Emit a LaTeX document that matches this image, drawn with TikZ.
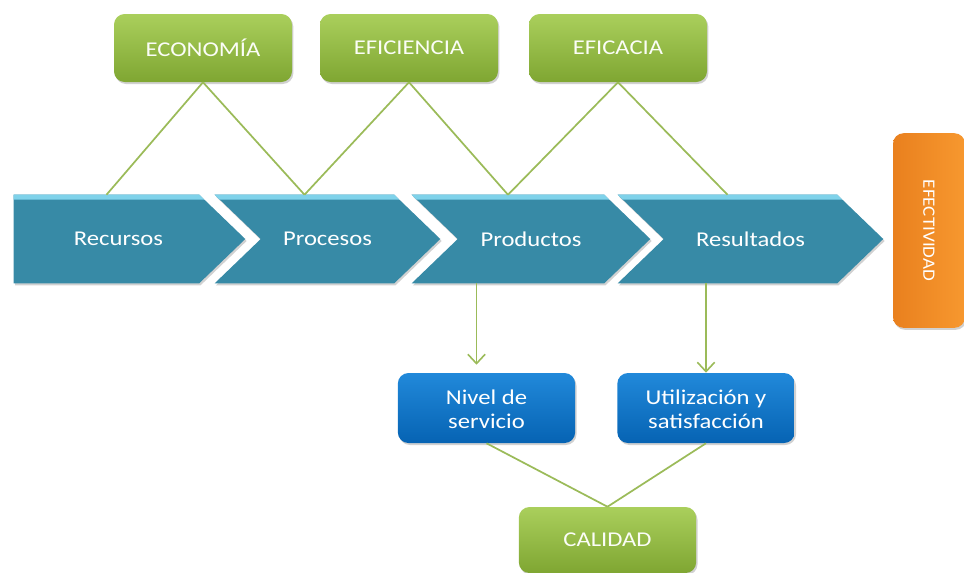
\documentclass[tikz,border=0pt]{standalone}
\usepackage{fontspec}
\setmainfont{Carlito}
\usetikzlibrary{calc,arrows.meta,shadows,backgrounds}
\definecolor{grT}{HTML}{AACF5C}
\definecolor{grB}{HTML}{7FA632}
\definecolor{teal}{HTML}{378AA6}
\definecolor{tealhi}{HTML}{7FD2EA}
\definecolor{blT}{HTML}{2189DA}
\definecolor{blB}{HTML}{0663B3}
\definecolor{orT}{HTML}{F7982F}
\definecolor{orB}{HTML}{E9801E}
\definecolor{conn}{HTML}{9BBB59}
\newcommand{\wx}[1]{\scalebox{1.17}[1]{#1}}
\begin{document}
\begin{tikzpicture}[x=0.75pt,y=-0.75pt,
  txt/.style={text=white, font=\fontsize{15.8}{18}\selectfont, align=center, inner sep=0pt},
  shad/.style={drop shadow={shadow xshift=1pt,shadow yshift=-1.5pt,opacity=0.3,fill=black!60}},
  greenbox/.style={txt, text=white!95!grT, rounded corners=8pt, minimum width=133.5pt, minimum height=51pt, top color=grT, bottom color=grB, shad},
  bluebox/.style={txt, rounded corners=8pt, minimum width=133pt, minimum height=52.5pt, top color=blT, bottom color=blB, shad},
  orangebox/.style={txt, rounded corners=8pt, minimum width=54pt, minimum height=146pt, left color=orB, right color=orT, shad},
  chevnode/.style={txt, minimum height=66pt},
  chev/.style={fill=teal, shad},
  chevhi/.style={fill=tealhi},
  link/.style={draw=conn, line width=1.3pt},
  arr/.style={link, -{Straight Barb[length=7pt,width=13pt,line width=1.2pt]}}
]
\useasboundingbox (0,0) rectangle (964,572);

% top boxes
\node[greenbox] (eco) at (203,48) {\wx{ECONOMÍA}};
\node[greenbox] (efi) at (409,48) {\wx{EFICIENCIA}};
\node[greenbox] (efa) at (618,48) {\wx{EFICACIA}};

% chevrons (text nodes; shapes on background)
\node[chevnode, minimum width=173.25pt] (rec) at (129.5,239) {\wx{Recursos}\hspace*{16.5pt}};
\node[chevnode, minimum width=168.75pt] (pro) at (327.5,239) {\wx{Procesos}};
\node[chevnode, minimum width=178.5pt] (prd) at (531,239) {\wx{Productos}};
\node[chevnode, minimum width=198.75pt] (res) at (750.5,239) {\wx{Resultados}};

\begin{scope}[on background layer]
  \fill[chev] (rec.north west) -- ($(rec.north east)+(-46,0)$) -- (rec.east) -- ($(rec.south east)+(-46,0)$) -- (rec.south west) -- cycle;
  \fill[chevhi] (rec.north west) -- ($(rec.north east)+(-46,0)$) -- ($(rec.north east)+(-41,5)$) -- ($(rec.north west)+(0,5)$) -- cycle;
  \foreach \n in {pro,prd,res}{
    \fill[chev] (\n.north west) -- ($(\n.north east)+(-46,0)$) -- (\n.east) -- ($(\n.south east)+(-46,0)$) -- (\n.south west) -- ($(\n.west)+(46,0)$) -- cycle;
    \fill[chevhi] (\n.north west) -- ($(\n.north east)+(-46,0)$) -- ($(\n.north east)+(-41,5)$) -- ($(\n.north west)+(5,5)$) -- cycle;
  }
\end{scope}

% effectiveness
\node[orangebox] (efe) at (929,230.5) {\rotatebox{-90}{\fontsize{13}{15}\selectfont\scalebox{1.1}[1]{EFECTIVIDAD}}};

% lower boxes
\node[bluebox] (niv) at (486.5,408) {\raisebox{-3pt}[\height][\depth]{\wx{\begin{tabular}{@{}c@{}}Nivel de\\servicio\end{tabular}}}};
\node[bluebox] (uti) at (706,408) {\raisebox{-3pt}[\height][\depth]{\wx{\begin{tabular}{@{}c@{}}Utilización y\\satisfacción\end{tabular}}}};
\node[greenbox, minimum width=133pt, minimum height=49.5pt] (cal) at (607.5,540) {\wx{CALIDAD}};

% connectors
\draw[link] (eco.south) -- ($(rec.north)+(-23,0)$);
\draw[link] (eco.south) -- ($(pro.north)+(-23,0)$);
\draw[link] (efi.south) -- ($(pro.north)+(-23,0)$);
\draw[link] (efi.south) -- ($(prd.north)+(-23,0)$);
\draw[link] (efa.south) -- ($(prd.north)+(-23,0)$);
\draw[link] (efa.south) -- ($(res.north)+(-23,0)$);
\draw[arr] ($(prd.south)+(-54.5,0)$) -- ($(niv.north)+(-10,-8)$);
\draw[arr] ($(res.south)+(-44.5,0)$) -- (uti.north);
\draw[link] (niv.south) -- (cal.north);
\draw[link] (uti.south) -- (cal.north);
\end{tikzpicture}
\end{document}
